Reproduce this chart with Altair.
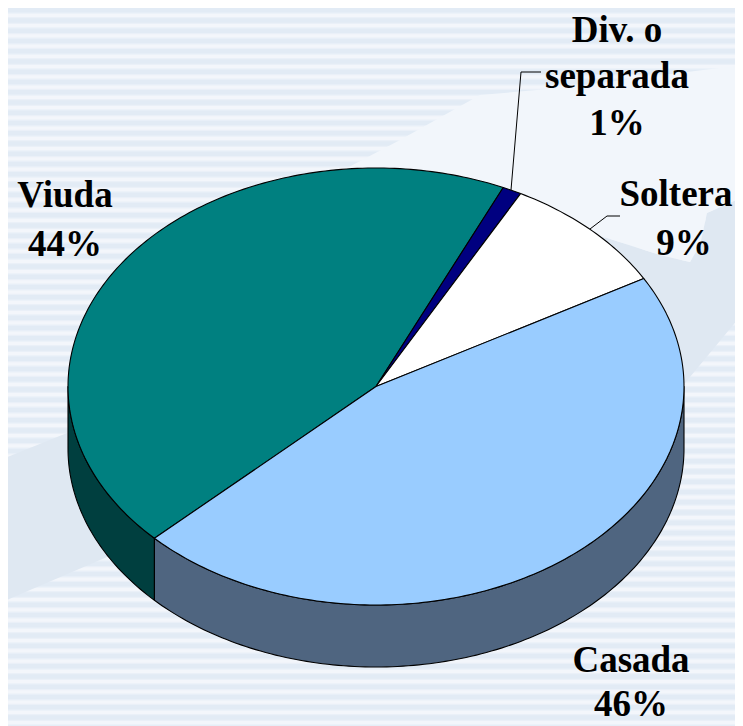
import math
import altair as alt
import pandas as pd

# --- chart values ---
categories = ["Viuda", "Div. o separada", "Soltera", "Casada"]
values = [44, 1, 9, 46]
top_colors = ["#008080", "#000080", "#FFFFFF", "#99CCFF"]
side_colors = ["#003F3F", "#000040", "#808080", "#4F6580"]

label_lines = ["Div. o", "separada", "1%", "Viuda", "44%", "Soltera", "9%", "Casada", "46%"]
label_x = [617, 617, 617, 65, 65, 676, 684, 631, 631]
label_y = [42, 88, 135, 207, 256, 206, 255, 672, 716]

leader_id = ["a", "a", "a", "b", "b", "b"]
leader_x = [511, 521, 541, 590, 607, 620]
leader_y = [190, 72, 72, 229, 216, 216]

pale_x = [347, 400, 480, 560, 743, 743, 707, 700, 690, 660, 607, 590, 347]
pale_y = [168, 140, 95, 88, 65, 197, 213, 245, 262, 255, 238, 235, 300]
dark_x = [0, 107, 685, 743, 743, 707, 700, 690, 660, 607, 590, 350, 67, 0]
dark_y = [603, 557, 383, 313, 197, 213, 245, 262, 255, 238, 235, 250, 433, 460]

# --- pie geometry ---
CX, CY, RX, RY, DEPTH = 376, 386.5, 308, 218.5, 62
START = 226.0
PAGE = 8
W, H = 735, 726

def pt(deg, drop=0.0):
    a = math.radians(deg)
    return CX + RX * math.sin(a), CY - RY * math.cos(a) + drop

top_rows, side_rows = [], []
angle = START
total = sum(values)
for name, v, tc, sc in zip(categories, values, top_colors, side_colors):
    sweep = 360 * v / total
    n = max(2, int(sweep) + 1)
    seq = 0
    top_rows.append(dict(id=name, seq=seq, x=CX, y=CY, c=tc))
    for i in range(n + 1):
        seq += 1
        x, y = pt(angle + sweep * i / n)
        top_rows.append(dict(id=name, seq=seq, x=x, y=y, c=tc))
    # visible wall: the part of the slice on the front half (90..270 deg)
    a0, a1 = angle % 360, (angle % 360) + sweep
    for lo, hi in ((a0, a1), (a0 - 360, a1 - 360)):
        lo2, hi2 = max(lo, 90), min(hi, 270)
        if hi2 > lo2:
            m = int(hi2 - lo2) + 1
            pts = [pt(lo2 + (hi2 - lo2) * i / m) for i in range(m + 1)]
            pts += [pt(lo2 + (hi2 - lo2) * i / m, DEPTH) for i in range(m, -1, -1)]
            for s, (x, y) in enumerate(pts):
                side_rows.append(dict(id=name, seq=s, x=x, y=y, c=sc))
    angle += sweep

xs = alt.Scale(domain=[PAGE, W], range=[0, W - PAGE], nice=False, zero=False)
ys = alt.Scale(domain=[PAGE, H], range=[0, H - PAGE], nice=False, zero=False)
X = alt.X("x:Q", scale=xs, axis=None)
Y = alt.Y("y:Q", scale=ys, axis=None)

# --- background stripes ---
PERIOD = 10.25
stripe_rows = []
k = 0
while k * PERIOD < H + PERIOD:
    c = k * PERIOD
    stripe_rows.append(dict(x=PAGE, x2=W, y=c - 3.6, y2=c + 3.6, c="#EAF0F8"))
    stripe_rows.append(dict(x=PAGE, x2=W, y=c - 2.2, y2=c + 2.2, c="#E2EBF5"))
    k += 1
stripes = alt.Chart(pd.DataFrame(stripe_rows)).mark_rect(clip=True).encode(
    x=X, x2="x2:Q", y=Y, y2="y2:Q", fill=alt.Fill("c:N", scale=None), order=alt.Order("c:N", sort="descending")
)

def shape(xs_, ys_, color):
    df = pd.DataFrame({"x": xs_, "y": ys_, "seq": range(len(xs_))})
    return alt.Chart(df).mark_line(interpolate="linear-closed", fill=color, stroke=None, clip=True).encode(
        x=X, y=Y, order="seq:Q"
    )

dark = shape(dark_x, dark_y, "#DFE8F2")
pale = shape(pale_x, pale_y, "#F2F6FB")

def pie_layer(rows):
    return alt.Chart(pd.DataFrame(rows)).mark_line(
        interpolate="linear-closed", stroke="black", strokeWidth=1.1, strokeJoin="round"
    ).encode(x=X, y=Y, order="seq:Q", detail="id:N", fill=alt.Fill("c:N", scale=None))

walls = pie_layer(side_rows)
tops = pie_layer(top_rows)

leaders = alt.Chart(pd.DataFrame({"x": leader_x, "y": leader_y, "id": leader_id, "seq": range(6)})).mark_line(
    stroke="black", strokeWidth=1
).encode(x=X, y=Y, detail="id:N", order="seq:Q")

labels = alt.Chart(pd.DataFrame({"x": label_x, "y": label_y, "t": label_lines})).mark_text(
    font="Liberation Serif", fontWeight="bold", fontSize=37, color="black", align="center", baseline="alphabetic"
).encode(x=X, y=Y, text="t:N")

chart = alt.layer(stripes, dark, pale, walls, tops, leaders, labels).properties(
    width=W - PAGE, height=H - PAGE, background="#F3F6FB", padding=0,
    autosize=alt.AutoSizeParams(type="none"),
).configure_view(stroke=None)

chart.save("out.html", embed_options={"renderer": "svg", "actions": False})
